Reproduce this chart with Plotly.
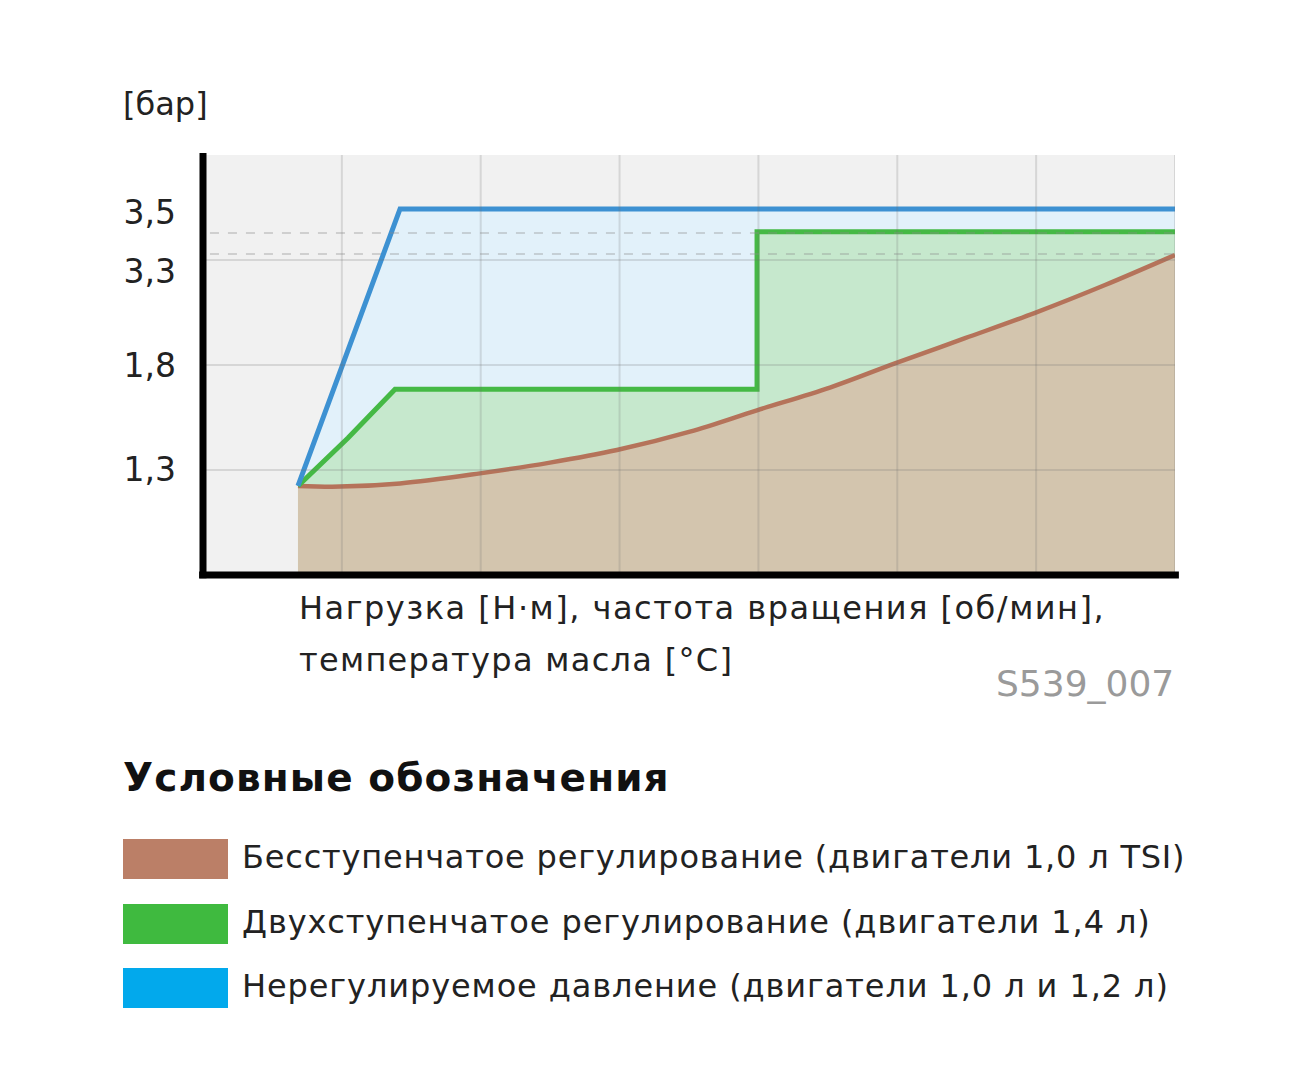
import plotly.graph_objects as go

# ---- data (chart units: x = 0..7 grid cells, y = 0..4 grid rows) ----
brown_x = [0.684, 0.987, 1.419, 1.995, 2.499, 2.981, 3.507, 3.989, 4.515, 4.983, 5.488, 5.992, 6.496, 7.0]
brown_y = [0.848, 0.842, 0.872, 0.968, 1.070, 1.190, 1.365, 1.568, 1.785, 2.015, 2.255, 2.497, 2.762, 3.048]

green_x = [0.684, 1.044, 1.383, 3.99, 3.99, 7.0]
green_y = [0.848, 1.305, 1.77, 1.77, 3.27, 3.27]

blue_x = [0.684, 1.419, 7.0]
blue_y = [0.848, 3.486, 3.486]

tick_pos = [1.01, 2.0, 2.895, 3.457]
tick_text = ["1,3", "1,8", "3,3", "3,5"]

grid_x = [1, 2, 3, 4, 5, 6, 7]
grid_y = [1, 2, 3]
dash_y = [3.257, 3.057]

legend_labels = [
    "Бесступенчатое регулирование (двигатели 1,0 л TSI)",
    "Двухступенчатое регулирование (двигатели 1,4 л)",
    "Нерегулируемое давление (двигатели 1,0 л и 1,2 л)",
]
legend_colors = ["#bb7f67", "#3fba3f", "#02a9ec"]

FONT = "DejaVu Sans"
W, H = 1296, 1073
L, R, T, B = 203, 121, 155, 498

fig = go.Figure()

# fills (drawn first, stacked by opacity order)
fig.add_trace(go.Scatter(x=blue_x, y=blue_y, fill="tozeroy", fillcolor="#e2f1fa",
                         mode="lines", line=dict(width=0), hoverinfo="skip", showlegend=False))
fig.add_trace(go.Scatter(x=green_x, y=green_y, fill="tozeroy", fillcolor="#c6e8cd",
                         mode="lines", line=dict(width=0), hoverinfo="skip", showlegend=False))
fig.add_trace(go.Scatter(x=brown_x, y=brown_y, fill="tozeroy", fillcolor="#d3c5ae",
                         mode="lines", line=dict(width=0, shape="spline", smoothing=1.0),
                         hoverinfo="skip", showlegend=False))

# lines
fig.add_trace(go.Scatter(x=brown_x, y=brown_y, mode="lines",
                         line=dict(color="#b5735a", width=4.5, shape="spline", smoothing=1.0),
                         showlegend=False))
fig.add_trace(go.Scatter(x=green_x, y=green_y, mode="lines",
                         line=dict(color="#45b945", width=5), showlegend=False))
fig.add_trace(go.Scatter(x=blue_x, y=blue_y, mode="lines",
                         line=dict(color="#3d91d2", width=5), showlegend=False))

shapes = []
for gx in grid_x:
    shapes.append(dict(type="line", xref="x", yref="y", x0=gx, x1=gx, y0=0, y1=4,
                       line=dict(color="rgba(110,110,110,0.2)", width=2), layer="above"))
for gy in grid_y:
    shapes.append(dict(type="line", xref="x", yref="y", x0=0, x1=7, y0=gy, y1=gy,
                       line=dict(color="rgba(110,110,110,0.2)", width=2), layer="above"))
for dy in dash_y:
    shapes.append(dict(type="line", xref="x", yref="y", x0=0.05, x1=7, y0=dy, y1=dy,
                       line=dict(color="rgba(140,140,140,0.45)", width=1.5, dash="dash"), layer="above"))
# axis lines (paper refs so they are not clipped)
shapes.append(dict(type="line", xref="paper", yref="paper", x0=0, x1=0, y0=-0.008, y1=1.005,
                   line=dict(color="black", width=7), layer="above"))
shapes.append(dict(type="line", xref="paper", yref="paper", x0=-0.004, x1=1.004, y0=0, y1=0,
                   line=dict(color="black", width=7), layer="above"))


def px_x(p):
    return (p - L) / (W - L - R)


def px_y(p):
    return (H - B - p) / (H - T - B)


sw_top = [839, 904, 968]
for c, top in zip(legend_colors, sw_top):
    shapes.append(dict(type="rect", xref="paper", yref="paper",
                       x0=px_x(123), x1=px_x(228), y0=px_y(top + 40), y1=px_y(top),
                       fillcolor=c, line=dict(width=0)))

annotations = []
annotations.append(dict(text="[бар]", xref="paper", yref="paper", x=px_x(121), y=px_y(104),
                        xanchor="left", yanchor="middle", showarrow=False,
                        font=dict(family=FONT, size=32, color="#222")))
annotations.append(dict(text="Нагрузка [Н·м], частота вращения [об/мин],", xref="paper", yref="paper",
                        x=px_x(297), y=px_y(608), xanchor="left", yanchor="middle", showarrow=False,
                        font=dict(family=FONT, size=32, color="#222")))
annotations.append(dict(text="температура масла [°C]", xref="paper", yref="paper",
                        x=px_x(297), y=px_y(660), xanchor="left", yanchor="middle", showarrow=False,
                        font=dict(family=FONT, size=32, color="#222")))
annotations.append(dict(text="S539_007", xref="paper", yref="paper",
                        x=px_x(1176), y=px_y(683), xanchor="right", yanchor="middle", showarrow=False,
                        font=dict(family=FONT, size=36, color="#9a9a9a")))
annotations.append(dict(text="<b>Условные обозначения</b>", xref="paper", yref="paper",
                        x=px_x(121), y=px_y(777), xanchor="left", yanchor="middle", showarrow=False,
                        font=dict(family=FONT, size=39, color="#111")))
for lab, top in zip(legend_labels, sw_top):
    annotations.append(dict(text=lab, xref="paper", yref="paper",
                            x=px_x(240), y=px_y(top + 18), xanchor="left", yanchor="middle",
                            showarrow=False, font=dict(family=FONT, size=32, color="#222")))

fig.update_layout(
    width=W, height=H,
    margin=dict(l=L, r=R, t=T, b=B, pad=0),
    paper_bgcolor="white",
    plot_bgcolor="#f1f1f1",
    shapes=shapes,
    annotations=annotations,
    xaxis=dict(range=[0, 7], showgrid=False, zeroline=False, showticklabels=False,
               showline=False, ticks="", fixedrange=True),
    yaxis=dict(range=[0, 4], showgrid=False, zeroline=False, showline=False,
               tickmode="array", tickvals=tick_pos, ticktext=tick_text, ticks="",
               ticklabelstandoff=26,
               tickfont=dict(family=FONT, size=33, color="#222"), fixedrange=True),
    showlegend=False,
)

post = """
document.body.style.margin='0';
document.body.style.overflow='hidden';
var sp={'Нагрузка':'1.5px','температура':'1.3px','Условные':'1.1px',
        'Бесступ':'0.8px','Двухступ':'0.9px','Нерегул':'0.9px'};
document.querySelectorAll('text.annotation-text').forEach(function(t){
  var s=t.textContent;
  for (var k in sp){
    if (s.indexOf(k)===0){
      var b0=t.getBBox();
      t.style.letterSpacing=sp[k];
      var b1=t.getBBox();
      t.setAttribute('transform','translate('+(b0.x-b1.x)+',0)');
    }
  }
});
"""

fig.write_html("out.html", config={"displayModeBar": False}, post_script=post)
